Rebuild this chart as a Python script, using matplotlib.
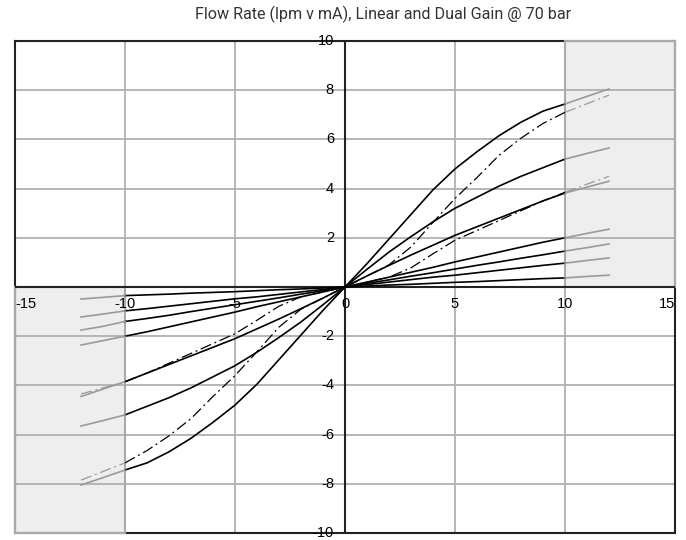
import numpy as np
import matplotlib.pyplot as plt
from matplotlib.patches import Rectangle

# current in mA, read at whole-mA steps from -12 to 12
x_mA = [-12, -11, -10, -9, -8, -7, -6, -5, -4, -3, -2, -1, 0,
        1, 2, 3, 4, 5, 6, 7, 8, 9, 10, 11, 12]

# linear gain curves (solid), flow in lpm
lin_a = [-8.05, -7.75, -7.44, -7.15, -6.7, -6.15, -5.5, -4.8, -3.95, -2.95, -1.95, -0.95, 0,
         0.95, 1.95, 2.95, 3.95, 4.8, 5.5, 6.15, 6.7, 7.15, 7.44, 7.75, 8.05]
lin_b = [-5.65, -5.43, -5.2, -4.85, -4.5, -4.1, -3.65, -3.2, -2.65, -2.05, -1.42, -0.72, 0,
         0.72, 1.42, 2.05, 2.65, 3.2, 3.65, 4.1, 4.5, 4.85, 5.2, 5.43, 5.65]
lin_c = [-4.45, -4.15, -3.85, -3.5, -3.15, -2.8, -2.45, -2.1, -1.7, -1.3, -0.88, -0.45, 0,
         0.45, 0.88, 1.3, 1.7, 2.1, 2.45, 2.8, 3.15, 3.5, 3.82, 4.06, 4.3]
lin_d = [-2.36, -2.18, -2.0, -1.82, -1.62, -1.42, -1.22, -1.02, -0.8, -0.6, -0.4, -0.2, 0,
         0.2, 0.4, 0.6, 0.8, 1.02, 1.22, 1.42, 1.62, 1.82, 2.0, 2.18, 2.35]
lin_e = [-1.75, -1.6, -1.4, -1.28, -1.15, -1.0, -0.86, -0.72, -0.58, -0.44, -0.29, -0.15, 0,
         0.15, 0.29, 0.44, 0.58, 0.73, 0.88, 1.02, 1.17, 1.31, 1.46, 1.6, 1.75]
lin_f = [-1.22, -1.1, -0.97, -0.88, -0.78, -0.68, -0.58, -0.48, -0.4, -0.3, -0.2, -0.1, 0,
         0.1, 0.2, 0.3, 0.4, 0.48, 0.58, 0.68, 0.78, 0.88, 0.97, 1.08, 1.18]
lin_g = [-0.49, -0.42, -0.35, -0.32, -0.29, -0.25, -0.22, -0.19, -0.15, -0.11, -0.08, -0.04, 0,
         0.04, 0.08, 0.11, 0.15, 0.19, 0.22, 0.26, 0.3, 0.34, 0.37, 0.43, 0.48]

# dual gain curves (dash-dot)
dual_a = [-7.85, -7.5, -7.15, -6.65, -6.05, -5.35, -4.45, -3.6, -2.63, -1.63, -0.9, -0.45, 0,
          0.45, 0.9, 1.63, 2.63, 3.6, 4.45, 5.35, 6.05, 6.65, 7.1, 7.45, 7.8]
dual_b = [-4.35, -4.1, -3.85, -3.5, -3.1, -2.7, -2.3, -1.9, -1.35, -0.78, -0.4, -0.2, 0,
          0.2, 0.4, 0.78, 1.35, 1.9, 2.3, 2.7, 3.1, 3.5, 3.85, 4.18, 4.5]

solid_curves = [lin_a, lin_b, lin_c, lin_d, lin_e, lin_f, lin_g]
dash_curves = [dual_a, dual_b]

x_ticks = [-15, -10, -5, 0, 5, 10, 15]
y_ticks = [-10, -8, -6, -4, -2, 0, 2, 4, 6, 8, 10]

grey = '#9a9a9a'
dashdot = (0, (9, 3, 1.5, 3))

fig = plt.figure(figsize=(6.86, 5.40), dpi=100)
ax = fig.add_axes([15/686, 7/540, 660/686, 492/540])
ax.set_xlim(-15, 15)
ax.set_ylim(-10, 10)

# shaded out-of-range zones
for x0, y0 in [(10, 0), (-15, -10)]:
    ax.add_patch(Rectangle((x0, y0), 5, 10, facecolor='#eeeeee', edgecolor='none', zorder=0.5))

ax.set_xticks(x_ticks)
ax.set_yticks(y_ticks)
ax.grid(True, color='#b0b0b0', linewidth=1.3)
ax.set_axisbelow(True)
ax.tick_params(length=0, labelbottom=False, labelleft=False)
for s in ax.spines.values():
    s.set_color('#222222')
    s.set_linewidth(1.5)

for x0, y0 in [(10, 0), (-15, -10)]:
    ax.add_patch(Rectangle((x0, y0), 5, 10, facecolor='none', edgecolor='#aaaaaa',
                           linewidth=1.5, zorder=2.6, clip_on=False))

ax.axhline(0, color='#222222', linewidth=1.5, zorder=2.7)
ax.axvline(0, color='#222222', linewidth=1.5, zorder=2.7)

x = np.array(x_mA)
inner = np.abs(x) <= 10
left = x <= -10
right = x >= 10
for ys in solid_curves:
    ys = np.array(ys)
    ax.plot(x[inner], ys[inner], color='black', linewidth=1.2, zorder=4)
    ax.plot(x[left], ys[left], color=grey, linewidth=1.2, zorder=4)
    ax.plot(x[right], ys[right], color=grey, linewidth=1.2, zorder=4)
for ys in dash_curves:
    ys = np.array(ys)
    ax.plot(x[inner], ys[inner], color='black', linewidth=0.9, linestyle=dashdot, zorder=4)
    ax.plot(x[left], ys[left], color=grey, linewidth=0.9, linestyle=dashdot, zorder=4)
    ax.plot(x[right], ys[right], color=grey, linewidth=0.9, linestyle=dashdot, zorder=4)

# tick labels sit on the axes, not on the frame
lab = dict(fontsize=10.5, family='Liberation Sans', color='black', zorder=5)
for t in x_ticks:
    ha = 'left' if t == -15 else ('right' if t == 15 else 'center')
    ax.text(t, -0.68, str(t), ha=ha, va='center', **lab)
for t in y_ticks:
    if t == 0:
        continue
    ax.text(-0.5, t, str(t), ha='right', va='center', **lab)

fig.text(0.558, 0.973, 'Flow Rate (lpm v mA), Linear and Dual Gain @ 70 bar',
         ha='center', va='center', fontsize=11.6, family='Roboto', color='#333333')

fig.savefig('out.png', dpi=100)
